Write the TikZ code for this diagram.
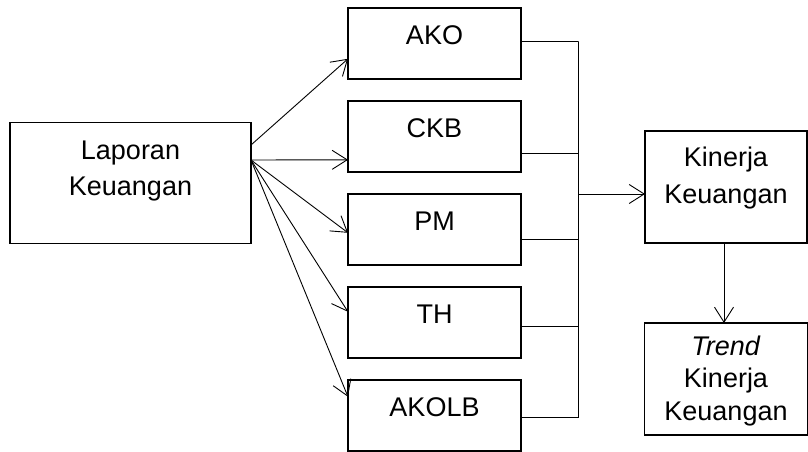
\documentclass[tikz,border=0pt]{standalone}
\usepackage{fontspec}
\setmainfont{Liberation Sans}
\usetikzlibrary{arrows.meta,positioning}

\begin{document}
\begin{tikzpicture}[x=1pt,y=-1pt,>={Straight Barb[length=15pt,width=19pt]},
                line width=0.9pt,
                box node/.style={draw,line width=1.8pt,inner sep=0pt,outer sep=0pt,
                  align=center,text width=173pt,text height=36pt,text depth=35pt,
                  font=\fontsize{27pt}{36pt}\selectfont}]
  \useasboundingbox (0,0) rectangle (808,452);

  \node[box node] (ako) at (434.5,43.8) {AKO};
  \node[box node] (ckb) [below=22pt of ako] {CKB};
  \node[box node] (pm) [below=22pt of ckb] {PM};
  \node[box node] (th) [below=22pt of pm] {TH};
  \node[box node] (akolb) [below=22pt of th] {AKOLB};

  \node[box node,text width=241pt,text height=37pt,text depth=84pt] (lap) at (130.5,183)
    {Laporan\\Keuangan};
  \node[box node,text width=162pt,text height=35pt,text depth=77pt,
        font=\fontsize{27pt}{37.6pt}\selectfont] (kin) at (726,187) {Kinerja\\Keuangan};
  \node[box node,text width=163pt,text height=32pt,text depth=80pt,
        font=\fontsize{27pt}{32.5pt}\selectfont] (trend) [below=80pt of kin]
    {\textit{Trend}\\Kinerja\\Keuangan};

  \path[->]
    ([yshift=38pt]lap.east) edge ([yshift=-15pt]ako.west)
    ([yshift=23pt]lap.east) edge ([yshift=-23pt]ckb.west)
                            edge ([yshift=-3pt]pm.west)
                            edge ([yshift=11pt]th.west)
                            edge ([yshift=19pt]akolb.west);

  \coordinate (bustop) at (578.3,41.7);
  \coordinate (bus) at (578.3,194);
  \draw ([yshift=2pt]ako.east) -| (bustop)
        ([yshift=-17pt]ckb.east) -| (bustop)
        ([yshift=-10pt]pm.east) -| (bustop)
        ([yshift=-4pt]th.east) -| (bustop)
        ([yshift=-2pt]akolb.east) -| (bustop);

  \draw[->] (bus) -- (bus -| kin.west);
  \draw[->] ([xshift=-2pt]kin.south) -- ([xshift=-2pt]trend.north);
\end{tikzpicture}
\end{document}
